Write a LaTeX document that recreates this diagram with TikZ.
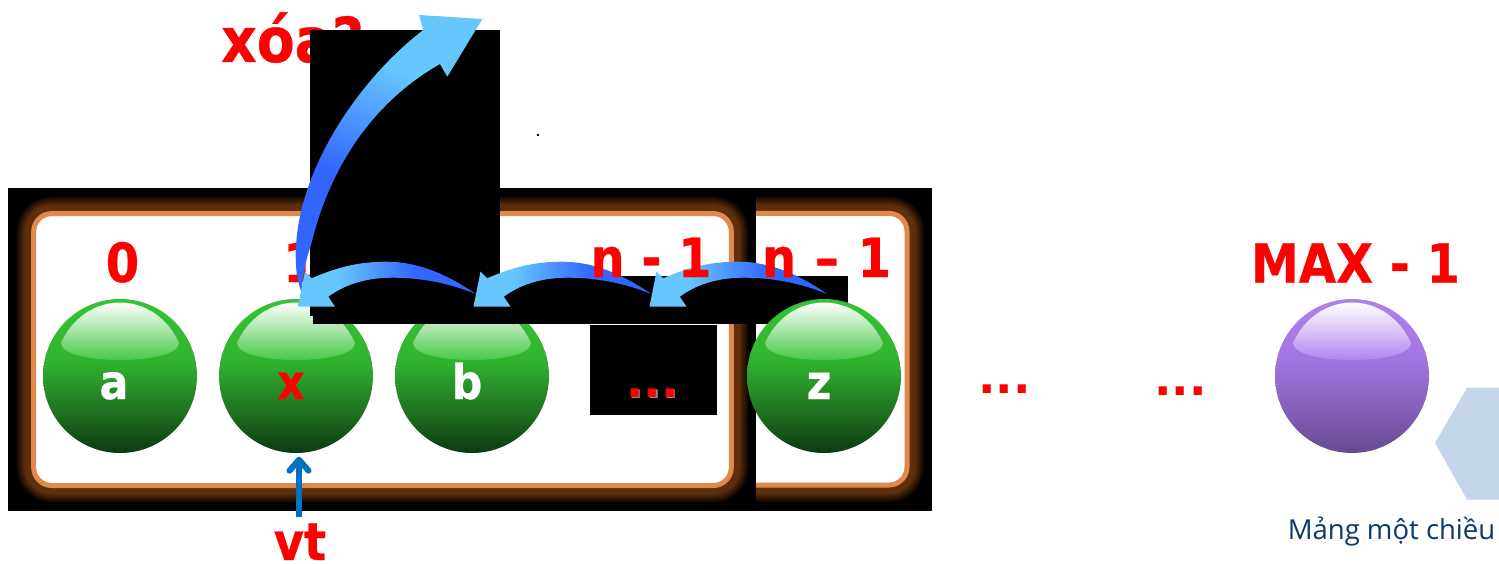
\documentclass[tikz,border=0pt]{standalone}
\usepackage{fontspec}
\setmainfont{DejaVu Sans}
\newfontfamily\headfont[FakeStretch=0.89,BoldFeatures={FakeBold=0.5}]{DejaVu Sans}
\newfontfamily\captionfont{Open Sans}
\usetikzlibrary{arrows.meta}

\definecolor{frameorange}{HTML}{DF8A4C}
\definecolor{glowbrown}{HTML}{5F2F0B}
\definecolor{capblue}{HTML}{0B3A6B}
\definecolor{hexblue}{HTML}{C5D5EA}
\definecolor{pointerblue}{HTML}{0070C0}
\definecolor{sweeplight}{HTML}{66C7FF}
\definecolor{sweepdeep}{HTML}{3366FF}

\definecolor{gA}{HTML}{0E3A12}
\definecolor{gB}{HTML}{247F24}
\definecolor{gC}{HTML}{30B430}
\definecolor{gD}{HTML}{33C433}
\definecolor{gE}{HTML}{45C845}
\definecolor{pA}{HTML}{674A92}
\definecolor{pB}{HTML}{8A63C0}
\definecolor{pC}{HTML}{A075DF}
\definecolor{pD}{HTML}{AE82EC}
\definecolor{pE}{HTML}{B085F0}

\pgfdeclareverticalshading{greenball}{100bp}{color(0bp)=(gA); color(25bp)=(gA); color(42bp)=(gB); color(55bp)=(gC); color(75bp)=(gD); color(100bp)=(gD)}
\pgfdeclareverticalshading{purpleball}{100bp}{color(0bp)=(pA); color(25bp)=(pA); color(42bp)=(pB); color(55bp)=(pC); color(75bp)=(pD); color(100bp)=(pD)}
\pgfdeclareverticalshading{greengloss}{100bp}{color(0bp)=(gE); color(25bp)=(gE); color(75bp)=(white); color(100bp)=(white)}
\pgfdeclareverticalshading{purplegloss}{100bp}{color(0bp)=(pE); color(25bp)=(pE); color(75bp)=(white); color(100bp)=(white)}
\pgfdeclarehorizontalshading{sweepshort}{100bp}{color(0bp)=(sweeplight); color(25bp)=(sweeplight); color(36bp)=(sweeplight); color(58bp)=(sweepdeep); color(75bp)=(sweepdeep); color(100bp)=(sweepdeep)}
\pgfdeclareverticalshading{sweeplong}{100bp}{color(0bp)=(sweepdeep); color(25bp)=(sweepdeep); color(42bp)=(sweepdeep); color(66bp)=(sweeplight); color(75bp)=(sweeplight); color(100bp)=(sweeplight)}

\tikzset{
  x=1pt, y=-1pt,
  ballbody/.style={circle, minimum size=154pt, inner sep=0pt, outer sep=0pt},
  bigred/.style={text=red, font=\headfont\fontsize{54}{60}\selectfont\bfseries, anchor=base, inner sep=0pt},
  ballname/.style={font=\headfont\fontsize{48}{50}\selectfont\bfseries, anchor=base, inner sep=0pt},
  dotsred/.style={text=red, font=\fontsize{46}{50}\selectfont\bfseries, anchor=base west, inner sep=0pt},
  dotsshade/.style={text=black!45, font=\fontsize{46}{50}\selectfont\bfseries, anchor=base west, inner sep=0pt},
  framepen/.style={draw=frameorange, line width=5pt, rounded corners=18pt},
}

% Glass ball: shaded disc plus a glossy cap on its upper half
\newcommand{\GlassBall}[4]{%
  \node[ballbody, shading=#3] (#1) at (#2,376) {};
  \shade[shading=#4, shift={(#1.center)}]
    (-59,-33) .. controls (-59,-22) and (-30,-16) .. (0,-16)
    .. controls (30,-16) and (59,-22) .. (59,-33)
    .. controls (48,-58) and (25,-73.5) .. (0,-73.5)
    .. controls (-25,-73.5) and (-48,-58) .. (-59,-33) -- cycle;
}

% Soft halo and outline of a rounded panel
\newcommand{\GlowPanel}[4]{%
  \foreach \d in {16,15,...,1}{%
    \pgfmathsetmacro{\pct}{min(100,(16-\d)*10)}
    \draw[draw=glowbrown!\pct!black, line width=5pt+2*\d pt, rounded corners=18pt]
      (#1,#2) rectangle (#3,#4);
  }
  \draw[framepen, fill=white] (#1,#2) rectangle (#3,#4);
}

% Curved shift arrow, tip at the given coordinate, tail to the right
\newcommand{\ShiftArrow}[1]{%
  \shade[shading=sweepshort, shift={(#1)}]
    (0,0) -- (7,-35) -- (13.7,-28.4)
    .. controls (40,-40) and (62,-45) .. (89,-45)
    .. controls (120,-45) and (150,-32) .. (177.7,-12.7)
    .. controls (150,-24) and (122,-29) .. (94,-29)
    .. controls (70,-29) and (48,-23) .. (30.3,-10)
    -- (37,0) -- cycle;
}

\begin{document}
\begin{tikzpicture}
  \useasboundingbox (0,0) rectangle (1499,564);
  \fill[white] (0,0) rectangle (1499,564);

  % Caption words that sit beneath the dark patch
  \node[bigred, anchor=base west, font=\headfont\fontsize{62}{64}\selectfont\bfseries] (question) at (221,62) {xóa?};

  % Dark backing and the two panels
  \fill[black] (8,188) rectangle (932,511);
  \GlowPanel{33.7}{213.6}{731.3}{485.5}
  \begin{scope}
    \clip (756,188) rectangle (932,511);
    \GlowPanel{600}{213.4}{907}{485}
  \end{scope}

  % Index labels under the dark patches
  \node[bigred] (idxzero) at (122.5,282) {0};
  \node[bigred] (idxone) at (300,282) {1};

  % Elements hidden in part by the strip
  \GlassBall{ballA}{120}{greenball}{greengloss}
  \GlassBall{ballX}{296}{greenball}{greengloss}
  \GlassBall{ballB}{472}{greenball}{greengloss}

  % Dark patches
  \fill[black] (310,30) rectangle (500,316);
  \fill[black] (313,276) rectangle (848,324);
  \fill[black] (590,325) rectangle (717,415);
  \fill[black] (537,134) rectangle (539,136);

  \GlassBall{ballZ}{824}{greenball}{greengloss}
  \GlassBall{ballMax}{1352}{purpleball}{purplegloss}

  % Element names
  \node[ballname, text=white] (nameA) at (114,399) {a};
  \node[ballname, text=red] (nameX) at (291,399) {x};
  \node[ballname, text=white] (nameB) at (467,399) {b};
  \node[ballname, text=white] (nameZ) at (819,399) {z};

  % Ellipses
  \node[dotsshade] (gapAshade) at (627.5,398.5) {...};
  \node[dotsred] (gapA) at (626,397) {...};
  \node[dotsred] (gapB) at (978,393.3) {...};
  \node[dotsred] (gapC) at (1154,395) {...};

  % Sweep from the element to the removal question
  \shade[shading=sweeplong, shading angle=-25]
    (301.7,293) .. controls (297,280) and (295.7,268) .. (295.7,255)
    .. controls (296,172) and (358,80) .. (423.3,30)
    -- (419,15) -- (482.3,19) -- (447.3,76.7) -- (440,64)
    .. controls (380,98) and (332,158) .. (311,245)
    .. controls (305,262) and (302,280) .. (301.7,293) -- cycle;

  % Shift arrows between neighbouring cells
  \coordinate (tipOne) at (298,306.7);
  \coordinate (tipTwo) at (473.5,306.7);
  \coordinate (tipThree) at (649.5,306.7);
  \ShiftArrow{tipOne}
  \ShiftArrow{tipTwo}
  \ShiftArrow{tipThree}

  % Upper index labels
  \node[bigred] (idxn) at (651,277) {n - 1};
  \node[bigred] (idxlast) at (826.5,277) {n\hspace{2pt} – \hspace{2pt}1};
  \node[bigred] (idxmax) at (1355.5,282.7) {MAX - 1};

  % Position pointer
  \coordinate (vtTail) at (299,517);
  \coordinate (vtTip) at (299,456.7);
  \draw[pointerblue, line width=6pt,
        -{Straight Barb[length=11pt, width=19pt, round]}] (vtTail) -- (vtTip);
  \node[bigred, font=\headfont\fontsize{52}{54}\selectfont\bfseries] (vt) at (300,560) {vt};

  % Corner hexagon and caption
  \fill[hexblue] (1435,443) -- (1467,387.7) -- (1499,387.7) -- (1499,499.5) -- (1467,499.5) -- cycle;
  \node[text=capblue, font=\captionfont\fontsize{27.5}{30}\selectfont, anchor=base, inner sep=0pt] (caption) at (1391.5,539) {Mảng một chiều};
\end{tikzpicture}
\end{document}
